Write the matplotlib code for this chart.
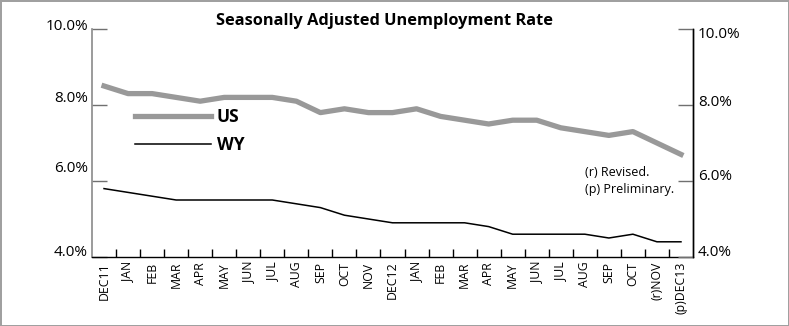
import matplotlib
matplotlib.use("Agg")
import matplotlib.pyplot as plt
import matplotlib.transforms as mtransforms
from matplotlib.ticker import FixedLocator

plt.rcParams['font.family'] = ['Open Sans', 'DejaVu Sans']

months = ["DEC11", "JAN", "FEB", "MAR", "APR", "MAY", "JUN", "JUL", "AUG", "SEP", "OCT", "NOV",
          "DEC12", "JAN", "FEB", "MAR", "APR", "MAY", "JUN", "JUL", "AUG", "SEP", "OCT", "(r)NOV", "(p)DEC13"]
us = [8.5, 8.3, 8.3, 8.2, 8.1, 8.2, 8.2, 8.2, 8.1, 7.8, 7.9, 7.8,
      7.8, 7.9, 7.7, 7.6, 7.5, 7.6, 7.6, 7.4, 7.3, 7.2, 7.3, 7.0, 6.7]
wy = [5.8, 5.7, 5.6, 5.5, 5.5, 5.5, 5.5, 5.5, 5.4, 5.3, 5.1, 5.0,
      4.9, 4.9, 4.9, 4.9, 4.8, 4.6, 4.6, 4.6, 4.6, 4.5, 4.6, 4.4, 4.4]
yticks = [4.0, 6.0, 8.0, 10.0]
ytick_labels = ["4.0%", "6.0%", "8.0%", "10.0%"]
title = "Seasonally Adjusted Unemployment Rate"
note = "(r) Revised.\n(p) Preliminary."

W, H = 789, 326
fig = plt.figure(figsize=(W / 100, H / 100), dpi=100)
fig.patch.set_facecolor("white")
fig.patch.set_edgecolor("#a0a0a0")
fig.patch.set_linewidth(2.0)

ax = fig.add_axes([92 / W, 69 / H, 601 / W, 228 / H])
x = list(range(len(months)))
ax.plot(x, us, color="#999999", lw=3.8, solid_joinstyle="round", label="US", zorder=3)
ax.plot(x, wy, color="black", lw=1.1, label="WY", zorder=3)

ax.set_xlim(-0.5, len(months) - 0.5)
ax.set_ylim(4.0, 10.0)

ax.spines["top"].set_visible(False)
ax.spines["left"].set_color("#8a8a8a")
ax.spines["left"].set_linewidth(1.2)
for s in ["right", "bottom"]:
    ax.spines[s].set_linewidth(1.0)
    ax.spines[s].set_color("black")

ax.set_xticks(x)
ax.set_xticklabels(months, rotation=90, fontsize=8.8, va="top", ha="center")
ax.xaxis.set_minor_locator(FixedLocator([i + 0.5 for i in range(len(months) - 1)]))
ax.tick_params(axis="x", which="major", length=0, pad=3.5)
ax.tick_params(axis="x", which="minor", direction="in", length=6, width=1.0, color="black")

ax.set_yticks(yticks)
ax.set_yticklabels(ytick_labels, fontsize=11)
ax.tick_params(axis="y", which="major", direction="in", length=10.5, width=1.0, pad=3,
               left=True, right=False, color="#707070")
left_offsets = [7, 14, 8, 4]
for lab, dy in zip(ax.get_yticklabels(), left_offsets):
    lab.set_transform(lab.get_transform() +
                      mtransforms.ScaledTranslation(0, dy / 100, fig.dpi_scale_trans))

ax2 = ax.twinx()
ax2.set_ylim(4.0, 10.0)
for s in ["top", "left", "bottom"]:
    ax2.spines[s].set_visible(False)
ax2.spines["right"].set_linewidth(1.0)
ax2.set_yticks(yticks)
ax2.set_yticklabels(ytick_labels, fontsize=11)
ax2.tick_params(axis="y", which="major", direction="in", length=10.5, width=1.0, pad=3.5,
                color="#707070")
right_offsets = [6, 6, 5, -3]
for lab, dy in zip(ax2.get_yticklabels(), right_offsets):
    lab.set_transform(lab.get_transform() +
                      mtransforms.ScaledTranslation(0, dy / 100, fig.dpi_scale_trans))

leg = ax.legend(loc="upper left", bbox_to_anchor=((135 - 92) / 601, (257 - 108) / 228),
                frameon=False, handlelength=4.4, handletextpad=0.3, labelspacing=0.6,
                borderpad=0, borderaxespad=0, prop={"weight": "bold", "size": 12.5})

ax.text((585 - 92) / 601, (257 - 166) / 228, note, transform=ax.transAxes,
        fontsize=9.0, va="top", ha="left", linespacing=1.35)

fig.text(385 / W, 1 - 21 / H, title, fontsize=11.8, fontweight="bold", ha="center", va="center")

fig.savefig("out.png", dpi=100, facecolor=fig.get_facecolor(), edgecolor=fig.get_edgecolor())
